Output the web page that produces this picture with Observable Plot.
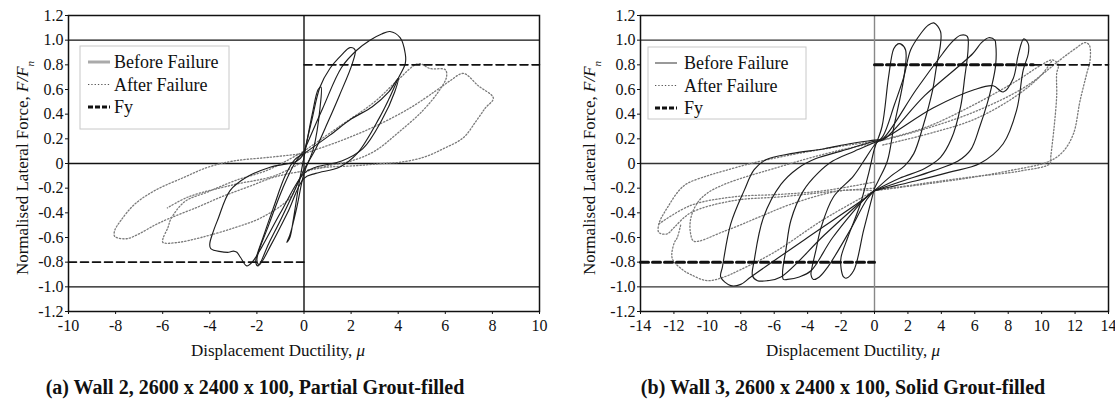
<!DOCTYPE html>
<html><head><meta charset="utf-8">
<script src="https://cdn.jsdelivr.net/npm/d3@7"></script>
<script src="https://cdn.jsdelivr.net/npm/@observablehq/plot@0.6"></script>
<style>
body{margin:0;background:#fff;font-family:"Liberation Serif","Times New Roman",serif;}
#wrap{position:relative;width:1115px;height:408px;overflow:hidden;background:#fff;}
.panel{position:absolute;top:0;}
.cap{position:absolute;top:376px;font-weight:bold;font-size:20px;white-space:nowrap;transform:translateX(-50%);color:#111;}
</style></head><body><div id="wrap">
<div id="pa" class="panel" style="left:0px"></div>
<div id="pb" class="panel" style="left:570px"></div>
<div class="cap" style="left:255px">(a) Wall 2, 2600 x 2400 x 100, Partial Grout-filled</div>
<div class="cap" style="left:843px">(b) Wall 3, 2600 x 2400 x 100, Solid Grout-filled</div>
</div>
<script>
// ---------- tick values ----------
const yTicks = [-1.2,-1.0,-0.8,-0.6,-0.4,-0.2,0,0.2,0.4,0.6,0.8,1.0,1.2];
const xTicksA = [-10,-8,-6,-4,-2,0,2,4,6,8,10];
const xTicksB = [-14,-12,-10,-8,-6,-4,-2,0,2,4,6,8,10,12,14];
const refLines = [1.0, 0, -1.0];
const fyLevel = 0.8;

// ---------- Wall 2 (partial grout) : before failure cycles [ductility, F/Fn] ----------
const w2_before_1 = [[0,0.05],[0.35,0.4],[0.6,0.6],[0.72,0.62],[0.68,0.45],[0.4,0.12],[0,-0.08],[-0.31,-0.36],[-0.6,-0.58],[-0.73,-0.64],[-0.6,-0.6],[-0.45,-0.45],[-0.2,-0.15],[0,0.05]];
const w2_before_2 = [[0,0.08],[0.33,0.35],[0.68,0.62],[1.1,0.77],[1.6,0.88],[1.95,0.94],[2.17,0.92],[2.05,0.81],[1.5,0.55],[1.0,0.33],[0.5,0.12],[0,-0.05],[-0.5,-0.26],[-1.0,-0.46],[-1.5,-0.65],[-1.95,-0.83],[-2.05,-0.8],[-1.7,-0.58],[-1.3,-0.36],[-0.8,-0.1],[-0.4,0.03],[0,0.08]];
const w2_before_3 = [[0,0.1],[0.8,0.45],[1.6,0.78],[2.25,0.92],[2.8,1.0],[3.3,1.05],[3.65,1.07],[4.08,1.02],[4.3,0.89],[4.3,0.81],[4.0,0.69],[3.6,0.52],[3.2,0.37],[2.25,0.08],[1.5,-0.03],[0.5,-0.08],[0,-0.12],[-0.7,-0.4],[-1.4,-0.66],[-1.9,-0.82],[-2.0,-0.78],[-1.5,-0.5],[-0.9,-0.2],[-0.4,0.0],[0,0.1]];
const w2_before_4 = [[0,0.08],[1.1,0.23],[2.0,0.36],[2.9,0.46],[3.6,0.58],[4.0,0.69],[3.85,0.58],[3.3,0.35],[2.5,0.12],[1.6,0.02],[0.5,-0.03],[0,-0.08],[-1.0,-0.4],[-1.8,-0.68],[-2.2,-0.8],[-2.43,-0.83],[-2.7,-0.76],[-2.85,-0.72],[-3.0,-0.71],[-3.2,-0.72],[-3.96,-0.69],[-4.0,-0.65],[-3.85,-0.55],[-3.65,-0.45],[-3.14,-0.22],[-2.43,-0.11],[-1.44,-0.03],[-0.3,0.02],[0,0.08]];

// ---------- Wall 2 : after failure cycles ----------
const w2_after_1 = [[0,0.1],[1.5,0.3],[3.0,0.5],[4.0,0.68],[4.86,0.81],[5.35,0.77],[6.0,0.76],[6.05,0.7],[5.7,0.58],[5.0,0.42],[4.0,0.25],[3.0,0.1],[2.0,0.02],[1.0,-0.02],[0,-0.08],[-0.6,-0.28],[-1.82,-0.44],[-2.94,-0.52],[-4.37,-0.6],[-5.35,-0.64],[-5.99,-0.64],[-5.99,-0.61],[-5.78,-0.52],[-5.65,-0.45],[-5.07,-0.31],[-4.08,-0.23],[-2.94,-0.14],[-1.5,-0.05],[0,0.1]];
const w2_after_2 = [[0,0.08],[1.5,0.18],[3.0,0.3],[4.5,0.45],[5.6,0.59],[6.2,0.67],[6.77,0.73],[7.4,0.63],[8.04,0.53],[7.7,0.45],[7.33,0.35],[6.77,0.21],[5.92,0.12],[5.07,0.05],[4.08,0.01],[3.37,0.0],[2.0,-0.02],[1.0,-0.03],[0,-0.06],[-1.25,-0.11],[-2.38,-0.19],[-3.5,-0.27],[-4.6,-0.36],[-5.78,-0.45],[-6.34,-0.5],[-7.0,-0.57],[-7.54,-0.61],[-8.04,-0.59],[-8.04,-0.545],[-7.77,-0.46],[-7.19,-0.33],[-6.34,-0.22],[-5.07,-0.11],[-4.08,-0.03],[-3.0,0.02],[-1.5,0.05],[0,0.08]];
const w2_after_3 = [[0,0.02],[-1.25,-0.1],[-2.94,-0.17],[-4.9,-0.27],[-5.8,-0.36]];

// ---------- Wall 3 (solid grout) : before failure cycles ----------
const w3_before_1 = [[0,-0.2],[-0.25,-0.33],[-0.65,-0.54],[-1.25,-0.87],[-1.7,-0.93],[-1.85,-0.92],[-2.0,-0.85],[-2.0,-0.76],[-1.6,-0.6],[-0.85,-0.33],[-0.35,-0.08],[0,0.12],[0.45,0.3],[0.84,0.7],[1.15,0.93],[1.4,0.97],[1.56,0.97],[1.86,0.92],[1.76,0.7],[1.15,0.29],[0.77,0.02],[0.3,-0.12],[0,-0.2]];
const w3_before_2 = [[0,-0.22],[-0.45,-0.29],[-1.5,-0.55],[-2.8,-0.84],[-3.3,-0.92],[-3.65,-0.94],[-3.8,-0.9],[-3.75,-0.85],[-3.5,-0.7],[-3.2,-0.52],[-2.45,-0.27],[-1.25,-0.1],[-0.5,0.05],[0,0.15],[0.5,0.22],[1.2,0.48],[1.75,0.7],[2.16,0.92],[2.75,1.05],[3.2,1.12],[3.55,1.14],[3.95,1.07],[3.95,0.97],[3.7,0.78],[3.47,0.59],[2.9,0.3],[2.35,0.08],[1.8,-0.02],[1.0,-0.1],[0,-0.22]];
const w3_before_3 = [[0,-0.22],[-0.4,-0.26],[-2.5,-0.6],[-3.8,-0.87],[-4.5,-0.92],[-5.2,-0.94],[-5.45,-0.94],[-5.5,-0.88],[-5.3,-0.7],[-5.0,-0.46],[-4.25,-0.22],[-3.4,-0.08],[-2.5,0.02],[-1.2,0.1],[0,0.17],[0.5,0.2],[2.5,0.6],[4.07,0.89],[4.6,0.98],[5.15,1.04],[5.55,1.03],[5.6,0.93],[5.4,0.7],[5.15,0.46],[4.6,0.2],[3.95,0.05],[3.0,-0.04],[1.5,-0.12],[0,-0.22]];
const w3_before_4 = [[0,-0.22],[-0.45,-0.27],[-3.0,-0.58],[-5.6,-0.92],[-6.4,-0.95],[-7.0,-0.95],[-7.3,-0.91],[-7.2,-0.79],[-6.65,-0.44],[-5.6,-0.17],[-4.6,-0.04],[-3.5,0.04],[-2.0,0.1],[0,0.18],[0.5,0.19],[3.0,0.55],[5.87,0.89],[6.4,0.98],[6.83,1.02],[7.2,1.0],[7.25,0.97],[7.25,0.8],[7.0,0.62],[6.75,0.49],[6.3,0.3],[5.75,0.11],[5.0,0.02],[3.5,-0.06],[1.5,-0.15],[0,-0.22]];
const w3_before_5 = [[0,-0.22],[-0.45,-0.27],[-4.0,-0.6],[-7.4,-0.92],[-8.0,-0.98],[-8.6,-0.99],[-9.2,-0.92],[-9.1,-0.84],[-8.6,-0.49],[-7.8,-0.22],[-7.2,-0.05],[-6.5,0.03],[-5.0,0.08],[-3.0,0.12],[-1.5,0.16],[0,0.19],[0.5,0.2],[3.5,0.45],[6.0,0.6],[7.1,0.63],[7.7,0.58],[8.3,0.69],[8.6,0.88],[8.93,1.01],[9.2,0.97],[9.2,0.89],[8.9,0.76],[8.5,0.43],[7.7,0.16],[6.3,0.0],[4.5,-0.07],[2.5,-0.14],[0,-0.22]];

// ---------- Wall 3 : after failure cycles ----------
const w3_after_1 = [[0,-0.22],[-2.0,-0.22],[-5.0,-0.33],[-7.0,-0.44],[-9.0,-0.55],[-10.8,-0.63],[-11.0,-0.57],[-11.0,-0.45],[-10.6,-0.32],[-10.0,-0.24],[-9.0,-0.17],[-7.5,-0.1],[-6.0,-0.04],[-4.0,0.04],[-2.0,0.11],[0,0.17],[0.5,0.19],[3.2,0.3],[6.0,0.48],[8.5,0.67],[10.0,0.8],[10.65,0.84],[11.0,0.8],[10.9,0.73],[10.9,0.55],[10.75,0.3],[10.55,0.06],[10.5,0.0],[8.75,-0.06],[5.75,-0.11],[3.0,-0.16],[0,-0.22]];
const w3_after_2 = [[0,-0.2],[-2.0,-0.22],[-5.6,-0.27],[-8.4,-0.3],[-11.0,-0.4],[-12.0,-0.52],[-12.4,-0.57],[-12.9,-0.56],[-12.9,-0.49],[-12.4,-0.36],[-11.4,-0.18],[-10.0,-0.1],[-9.0,-0.06],[-7.4,0.0],[-5.0,0.07],[-2.5,0.13],[0,0.18],[0.5,0.19],[3.0,0.28],[6.0,0.42],[9.0,0.62],[11.1,0.84],[12.0,0.93],[12.6,0.98],[12.85,0.96],[12.9,0.84],[12.7,0.73],[12.3,0.51],[11.9,0.24],[11.3,0.1],[10.5,0.02],[8.0,-0.06],[5.0,-0.13],[0,-0.22]];
const w3_after_3 = [[-12.9,-0.49],[-11.0,-0.34],[-8.4,-0.27],[-5.6,-0.25],[-3.0,-0.22],[0,-0.15]];
const w3_after_4 = [[0,-0.22],[-3.0,-0.45],[-6.0,-0.72],[-8.0,-0.86],[-9.0,-0.92],[-10.0,-0.95],[-11.0,-0.9],[-11.5,-0.86],[-12.1,-0.77],[-12.0,-0.65],[-11.8,-0.6],[-11.6,-0.5]];
const w3_after_5 = [[0.5,0.15],[3.2,0.24],[6.0,0.36],[8.5,0.55],[10.0,0.72],[10.65,0.84]];

const toRows = (loops) => loops.flatMap((pts, i) => pts.map(([x, y]) => ({x, y, id: i})));
const FONT = "'Liberation Serif', 'Times New Roman', serif";

function addText(svg, x, y, parts, opts = {}) {
  const t = svg.append("text")
    .attr("font-family", FONT)
    .attr("font-size", opts.size || 17)
    .attr("fill", "#111")
    .attr("text-anchor", opts.anchor || "start")
    .attr("transform", `translate(${x},${y})` + (opts.rotate ? ` rotate(${opts.rotate})` : ""));
  for (const p of parts) {
    const s = t.append("tspan").text(p.t);
    if (p.i) s.attr("font-style", "italic");
    if (p.sub) s.attr("baseline-shift", "sub").attr("font-size", 11);
  }
  return t;
}

function panel(el, cfg) {
  const chart = Plot.plot({
    width: cfg.width, height: 368,
    marginLeft: cfg.ml, marginRight: cfg.mr, marginTop: 15, marginBottom: 57,
    style: {fontFamily: FONT, fontSize: "16px", color: "#111", background: "transparent", overflow: "visible"},
    x: {domain: cfg.xDomain, ticks: cfg.xTicks, tickFormat: d => String(d), tickSize: 3, tickPadding: 5, label: null},
    y: {domain: [-1.2, 1.2], ticks: yTicks, tickFormat: d => d === 0 ? "0" : d.toFixed(1), tickSize: 3, tickPadding: 2, label: null},
    marks: [
      Plot.ruleY(refLines, {stroke: cfg.refColor, strokeWidth: 1.4}),
      Plot.ruleX([0], {stroke: cfg.zeroColor, strokeWidth: 1.4}),
      Plot.line(toRows(cfg.after), {x: "x", y: "y", z: "id", stroke: "#7a7a7a", strokeWidth: 1.3, strokeDasharray: "1.3,2", curve: "catmull-rom"}),
      Plot.line(toRows(cfg.before), {x: "x", y: "y", z: "id", stroke: "#1e1e1e", strokeWidth: 1.15, curve: "catmull-rom"}),
      ...cfg.fy.map(f => Plot.line([{x: f[0], y: f[2]}, {x: f[1], y: f[2]}], {x: "x", y: "y", stroke: "#111", strokeWidth: f[3], strokeDasharray: "8,4"})),
      Plot.frame({stroke: "#111", strokeWidth: 1.5})
    ]
  });
  el.appendChild(chart);
  const svg = d3.select(chart);
  addText(svg, cfg.ylx, 168, [{t: "Normalised Lateral Force, "}, {t: "F", i: 1}, {t: "/", i: 1}, {t: "F", i: 1}, {t: "n", i: 1, sub: 1}], {anchor: "middle", rotate: -90, size: 17});
  addText(svg, cfg.xlx, 356, [{t: "Displacement Ductility, "}, {t: "μ", i: 1}], {anchor: "middle", size: 17});
  // legend
  const L = cfg.legend;
  const g = svg.append("g");
  g.append("rect").attr("x", L.x).attr("y", L.y).attr("width", L.w).attr("height", L.h).attr("fill", "#fff").attr("stroke", "#c8c8c8").attr("stroke-width", 1);
  const rows = [
    {label: "Before Failure", stroke: L.beforeColor, width: L.beforeWidth, dash: null},
    {label: "After Failure", stroke: "#555", width: 1.2, dash: "1.3,2"},
    {label: "Fy", stroke: "#111", width: 3, dash: "5,2"}
  ];
  rows.forEach((r, i) => {
    const yy = L.y + 16 + i * 22.5;
    g.append("line").attr("x1", L.sx1).attr("x2", L.sx2).attr("y1", yy).attr("y2", yy)
      .attr("stroke", r.stroke).attr("stroke-width", r.width).attr("stroke-dasharray", r.dash);
    addText(g, L.tx, yy + 6, [{t: r.label}], {size: 18});
  });
}

panel(document.getElementById("pa"), {
  width: 560, ml: 68, mr: 21, xDomain: [-10, 10], xTicks: xTicksA,
  refColor: "#111", zeroColor: "#111",
  before: [w2_before_1, w2_before_2, w2_before_3, w2_before_4],
  after: [w2_after_1, w2_after_2, w2_after_3],
  fy: [[0, 10, fyLevel, 1.6], [-10, 0, -fyLevel, 1.6]],
  ylx: 28, xlx: 278,
  legend: {x: 80, y: 46, w: 149, h: 83, sx1: 88, sx2: 110, tx: 114, beforeColor: "#aaa", beforeWidth: 3}
});

panel(document.getElementById("pb"), {
  width: 545, ml: 70, mr: 7, xDomain: [-14, 14], xTicks: xTicksB,
  refColor: "#333", zeroColor: "#888",
  before: [w3_before_1, w3_before_2, w3_before_3, w3_before_4, w3_before_5],
  after: [w3_after_1, w3_after_2, w3_after_3, w3_after_4, w3_after_5],
  fy: [[0, 9.5, fyLevel, 3], [9.5, 14, fyLevel, 1.6], [-14, 0, -fyLevel, 3]],
  ylx: 25, xlx: 283,
  legend: {x: 78, y: 47, w: 158, h: 72, sx1: 85, sx2: 107, tx: 114, beforeColor: "#555", beforeWidth: 1.2}
});
</script>
</body></html>
